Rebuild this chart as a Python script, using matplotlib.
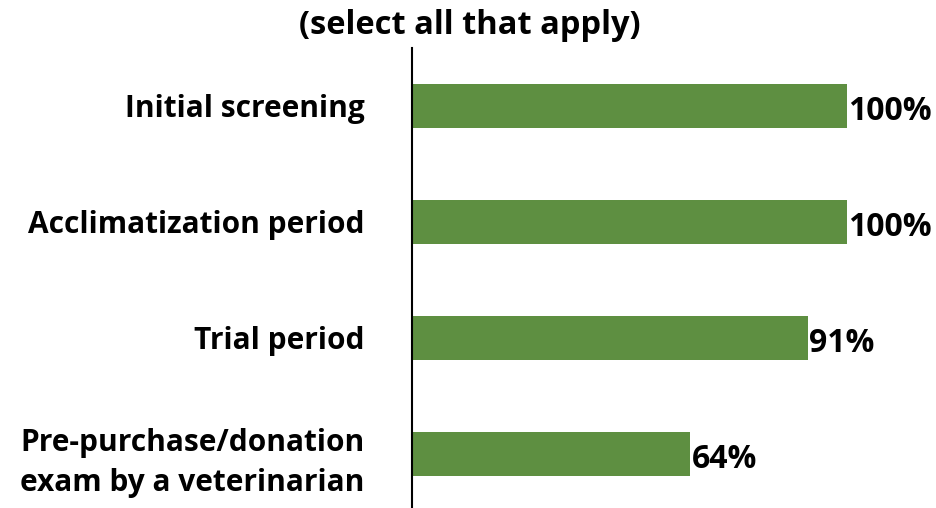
import matplotlib.pyplot as plt

categories = ['Initial screening', 'Acclimatization period', 'Trial period',
              'Pre-purchase/donation\nexam by a veterinarian']
values = [100, 100, 91, 64]
value_labels = ['100%', '100%', '91%', '64%']

plt.rcParams['font.family'] = ['Open Sans', 'DejaVu Sans']
plt.rcParams['font.weight'] = 'bold'

fig = plt.figure(figsize=(9.36, 5.08), dpi=100)
ax = fig.add_axes([412 / 936, -4 / 508, 435 / 936, 464 / 508])

y = list(range(len(categories)))
ax.barh(y, values, height=0.38, color='#5E8F41')
ax.set_ylim(len(categories) - 0.5, -0.5)
ax.set_xlim(0, 100)

# percentage labels just past the end of each bar
for yi, v, lab in zip(y, values, value_labels):
    ax.text(v + 0.3, yi + 0.05, lab, va='center', ha='left', fontsize=23, fontweight='bold')

ax.set_yticks(y)
ax.set_yticklabels(categories, fontsize=21.5, fontweight='bold', ha='right',
                   linespacing=1.45)
ax.tick_params(axis='y', length=0, pad=34)
ax.set_xticks([])
for s in ['top', 'right', 'bottom']:
    ax.spines[s].set_visible(False)
ax.spines['left'].set_linewidth(1.5)

fig.text(470 / 936, 1 - 25 / 508, '(select all that apply)', ha='center', va='center',
         fontsize=23.5, fontweight='bold')

fig.savefig('out.png', dpi=100)
